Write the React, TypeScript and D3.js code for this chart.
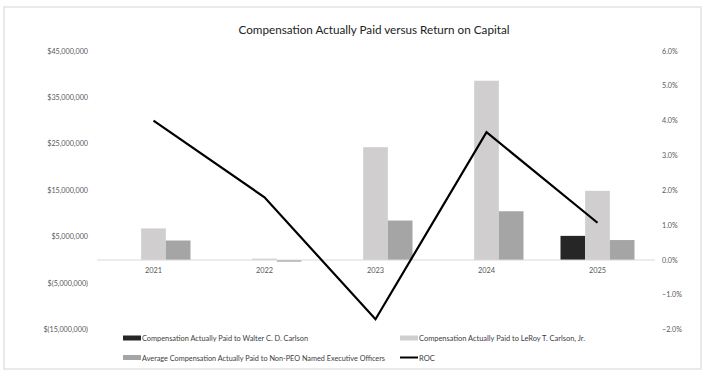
import React from "react";
import * as d3 from "d3";

// chart data
const years = ["2021", "2022", "2023", "2024", "2025"];
const walterCap = [0, 0, 0, 0, 5200000];
const leroyCap = [6800000, 300000, 24300000, 38600000, 14900000];
const neoCap = [4200000, -350000, 8500000, 10500000, 4300000];
const roc = [0.04, 0.018, -0.017, 0.0367, 0.0107];

const leftTicks = [-15000000, -5000000, 5000000, 15000000, 25000000, 35000000, 45000000];
const rightTicks = [-0.02, -0.01, 0, 0.01, 0.02, 0.03, 0.04, 0.05, 0.06];

const seriesNames = [
  "Compensation Actually Paid to Walter C. D. Carlson",
  "Compensation Actually Paid to LeRoy T. Carlson, Jr.",
  "Average Compensation Actually Paid to Non-PEO Named Executive Officers",
];
const colors = ["#262626", "#d0cece", "#a5a5a5"];

const W = 708;
const H = 372;
const font = "Lato, 'Open Sans', sans-serif";

export default function App() {
  const x = d3.scaleBand().domain(years).range([98, 653]).paddingInner(0).paddingOuter(0);
  const inner = d3
    .scaleBand()
    .domain(["0", "1", "2"])
    .range([0, x.bandwidth()])
    .paddingInner(0)
    .paddingOuter(0.75);

  const yL = d3.scaleLinear().domain([-15000000, 45000000]).range([329.7, 51]);
  const yR = d3.scaleLinear().domain([-0.02, 0.06]).range([329.7, 51]);

  const money = (v: number) =>
    v < 0 ? `$(${d3.format(",")(-v)})` : `$${d3.format(",")(v)}`;
  const pct = d3.format(".1%");

  const allSeries = [walterCap, leroyCap, neoCap];

  const line = d3
    .line<number>()
    .x((d, i) => (x(years[i]) as number) + x.bandwidth() / 2)
    .y((d) => yR(d));

  return (
    <svg
      width={W}
      height={H}
      style={{ position: "fixed", left: 0, top: 0, background: "#fff" }}
      fontFamily={font}
    >
      <rect x={4} y={7} width={697} height={362} fill="none" stroke="#e3e3e3" strokeWidth={1.5} />

      <text x={374} y={34} textAnchor="middle" fontSize={11.7} fill="#222">
        Compensation Actually Paid versus Return on Capital
      </text>

      {/* left axis labels */}
      {leftTicks.map((t) => (
        <text key={t} x={88} y={yL(t) + 2.5} textAnchor="end" fontSize={7.2} fill="#595959">
          {money(t)}
        </text>
      ))}

      {/* right axis labels */}
      {rightTicks.map((t) => (
        <text key={t} x={662} y={yR(t) + 2.5} textAnchor="start" fontSize={7.2} fill="#595959">
          {pct(t)}
        </text>
      ))}

      {/* bars */}
      {allSeries.map((vals, s) =>
        vals.map((v, i) =>
          v === 0 ? null : (
            <rect
              key={`${s}-${i}`}
              x={(x(years[i]) as number) + (inner(String(s)) as number)}
              y={Math.min(yL(v), yL(0))}
              width={inner.bandwidth()}
              height={Math.abs(yL(v) - yL(0))}
              fill={colors[s]}
            />
          )
        )
      )}

      {/* zero line */}
      <line x1={97} x2={655} y1={yL(0)} y2={yL(0)} stroke="#d9d9d9" strokeWidth={1} />

      {/* category labels */}
      {years.map((yr) => (
        <text
          key={yr}
          x={(x(yr) as number) + x.bandwidth() / 2}
          y={273}
          textAnchor="middle"
          fontSize={7.4}
          fill="#595959"
        >
          {yr}
        </text>
      ))}

      {/* ROC line */}
      <path d={line(roc) || ""} fill="none" stroke="#000" strokeWidth={2.2} strokeLinejoin="miter" />

      {/* legend */}
      <g fontSize={7.6} fill="#404040">
        <rect x={123} y={335.5} width={18} height={5} fill={colors[0]} />
        <text x={142} y={341} textLength={166} lengthAdjust="spacingAndGlyphs">{seriesNames[0]}</text>
        <rect x={400} y={335.5} width={18} height={5} fill={colors[1]} />
        <text x={419} y={341} textLength={166} lengthAdjust="spacingAndGlyphs">{seriesNames[1]}</text>
        <rect x={123} y={355} width={18} height={5} fill={colors[2]} />
        <text x={142} y={360.5} textLength={243} lengthAdjust="spacingAndGlyphs">{seriesNames[2]}</text>
        <line x1={400} x2={418} y1={357.5} y2={357.5} stroke="#000" strokeWidth={2} />
        <text x={419} y={360.5}>ROC</text>
      </g>
    </svg>
  );
}
